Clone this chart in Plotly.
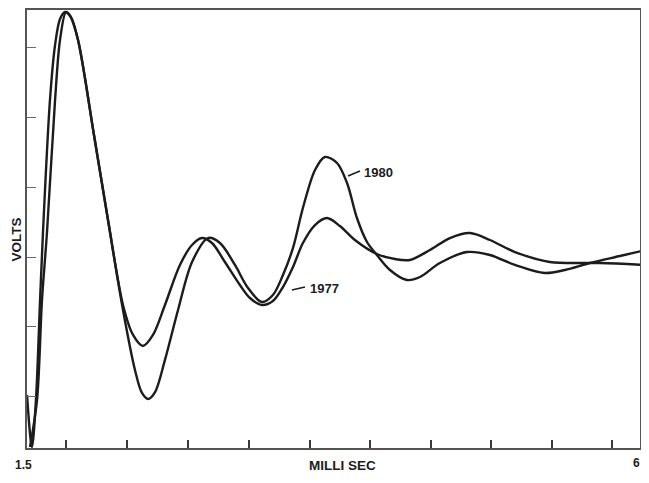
import plotly.graph_objects as go

# Time axis (ms) and voltage (arbitrary units; 1 unit = one y-tick spacing)
t_1977 = [1.500, 1.536, 1.565, 1.595, 1.616, 1.667, 1.704, 1.740, 1.776, 1.813, 1.871, 1.987, 2.089, 2.198,
          2.271, 2.343, 2.416, 2.503, 2.612, 2.700, 2.772, 2.845, 2.939, 3.048, 3.121, 3.208, 3.288, 3.361,
          3.434, 3.506, 3.594, 3.681, 3.775, 3.884, 4.044, 4.175, 4.284, 4.430, 4.575, 4.721, 4.866, 5.048,
          5.302, 5.666, 6.000]
v_1977 = [-1.971, -2.714, -2.043, -0.614, 0.343, 2.243, 3.029, 3.400, 3.500, 3.443, 3.100, 1.743, 0.529, -0.686,
          -1.114, -1.271, -1.114, -0.686, -0.114, 0.171, 0.271, 0.200, -0.071, -0.400, -0.586, -0.686, -0.629, -0.429,
          -0.143, 0.200, 0.457, 0.557, 0.443, 0.243, 0.043, -0.029, -0.043, 0.100, 0.271, 0.343, 0.243, 0.071,
          -0.071, -0.086, -0.114]

t_1980 = [1.522, 1.573, 1.609, 1.645, 1.704, 1.740, 1.784, 1.820, 1.871, 1.987, 2.089, 2.198, 2.285, 2.336,
          2.380, 2.431, 2.503, 2.598, 2.700, 2.816, 2.903, 3.012, 3.107, 3.208, 3.288, 3.361, 3.434, 3.506,
          3.594, 3.666, 3.754, 3.827, 3.899, 3.972, 4.044, 4.139, 4.262, 4.357, 4.502, 4.699, 4.866, 5.048,
          5.266, 5.411, 5.593, 5.811, 6.000]
v_1980 = [-2.714, -2.043, -0.614, 0.343, 2.243, 3.100, 3.500, 3.429, 3.100, 1.743, 0.529, -0.757, -1.614, -1.943,
          -2.029, -1.929, -1.471, -0.757, -0.071, 0.271, 0.200, -0.114, -0.443, -0.643, -0.543, -0.257, 0.129, 0.700,
          1.243, 1.429, 1.343, 1.057, 0.557, 0.214, 0.029, -0.186, -0.329, -0.286, -0.086, 0.071, 0.029, -0.114,
          -0.229, -0.186, -0.086, 0.014, 0.100]

x_ticks = [1.785, 2.227, 2.670, 3.114, 3.557, 3.994, 4.437, 4.873, 5.317, 5.753]
y_ticks = [-2, -1, 0, 1, 2, 3]

x_range = [1.5, 5.957]
y_range = [-2.729, 3.529]

LINE = "#1c1c1c"
FONT = "Liberation Sans, Arial, sans-serif"

fig = go.Figure()
for t, v, name in [(t_1977, v_1977, "1977"), (t_1980, v_1980, "1980")]:
    fig.add_trace(go.Scatter(x=t, y=v, mode="lines", name=name,
                             line=dict(color=LINE, width=2.4, shape="spline", smoothing=0.9),
                             showlegend=False, hoverinfo="x+y+name"))

# leader lines for the series labels
fig.add_trace(go.Scatter(x=[3.834, 3.921], y=[1.157, 1.229], mode="lines",
                         line=dict(color=LINE, width=1.5), showlegend=False, hoverinfo="skip"))
fig.add_trace(go.Scatter(x=[3.426, 3.521], y=[-0.471, -0.429], mode="lines",
                         line=dict(color=LINE, width=1.5), showlegend=False, hoverinfo="skip"))

fig.add_annotation(x=3.935, y=1.214, text="<b>1980</b>", showarrow=False, xanchor="left",
                   font=dict(family=FONT, size=13, color=LINE))
fig.add_annotation(x=3.543, y=-0.443, text="<b>1977</b>", showarrow=False, xanchor="left",
                   font=dict(family=FONT, size=13, color=LINE))

fig.add_annotation(xref="paper", yref="paper", x=-0.017, y=0.475, text="<b>VOLTS</b>",
                   xanchor="center", yanchor="middle",
                   textangle=-90, showarrow=False, font=dict(family=FONT, size=13.5, color=LINE))
fig.add_annotation(xref="paper", yref="paper", x=0.514, y=-0.041, text="<b>MILLI SEC</b>",
                   xanchor="center", yanchor="middle",
                   showarrow=False, font=dict(family=FONT, size=13.5, color=LINE))
fig.add_annotation(xref="paper", yref="paper", x=-0.005, y=-0.038, text="<b>1.5</b>",
                   xanchor="center", yanchor="middle",
                   showarrow=False, font=dict(family=FONT, size=12, color=LINE))
fig.add_annotation(xref="paper", yref="paper", x=0.994, y=-0.034, text="<b>6</b>",
                   xanchor="center", yanchor="middle",
                   showarrow=False, font=dict(family=FONT, size=12, color=LINE))

fig.update_xaxes(range=x_range, showgrid=False, zeroline=False, showline=True, mirror=True,
                 linecolor="#555555", linewidth=1.5, ticks="inside", ticklen=8, tickwidth=1.5,
                 tickcolor="#3a3a3a", tickvals=x_ticks, showticklabels=False, automargin=False)
fig.update_yaxes(range=y_range, showgrid=False, zeroline=False, showline=True, mirror=True,
                 linecolor="#555555", linewidth=1.5, ticks="inside", ticklen=9, tickwidth=1.2,
                 tickcolor="#6a6a6a", tickvals=y_ticks, showticklabels=False, automargin=False)

# the page body adds an 8px margin, so the figure is sized to fit the window without scrolling
fig.update_layout(width=633, height=467, margin=dict(l=19, r=1, t=2, b=27),
                  plot_bgcolor="white", paper_bgcolor="white")

fig.write_html("out.html")
